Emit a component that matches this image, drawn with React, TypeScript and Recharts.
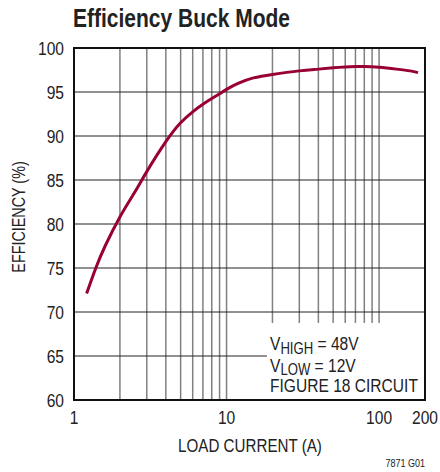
import React from "react";
import { LineChart, Line, XAxis, YAxis, CartesianGrid, ReferenceArea } from "recharts";

const loadCurrent = [1.21, 1.39, 1.6, 2, 2.5, 3, 4, 5, 6, 7, 8, 9, 10, 12, 15, 20, 30, 40, 50, 60, 70, 80, 100, 130, 160, 180];
const efficiency = [72.1, 75.0, 77.5, 80.8, 83.6, 85.95, 89.35, 91.5, 92.75, 93.6, 94.25, 94.8, 95.3, 96.0, 96.6, 97.0, 97.4, 97.6, 97.76, 97.85, 97.9, 97.9, 97.8, 97.6, 97.4, 97.2];

const xGridTicks = [1, 2, 3, 4, 5, 6, 7, 8, 9, 10, 20, 30, 40, 50, 60, 70, 80, 90, 100, 200];
const xTickLabels = [1, 10, 100, 200];
const yTicks = [60, 65, 70, 75, 80, 85, 90, 95, 100];

const data = loadCurrent.map((current, i) => ({ current, efficiency: efficiency[i] }));

const FONT = '"Liberation Sans", Arial, sans-serif';
const INK = "#222";
const CURVE = "#990033";

// Liberation Sans squeezed sideways, to look like the condensed face of the original
function NarrowText({ x, y, size, anchor = "start", weight = "normal", rotate = 0, squeeze = 0.82, children }: any) {
  return (
    <text
      transform={`translate(${x},${y}) rotate(${rotate}) scale(${squeeze},1)`}
      fontSize={size}
      fontFamily={FONT}
      fontWeight={weight}
      textAnchor={anchor}
      fill={INK}
    >
      {children}
    </text>
  );
}

const XTick = ({ x, y, payload }: any) =>
  xTickLabels.includes(payload.value) ? (
    <NarrowText x={x} y={y + 14} size={19} anchor="middle">{String(payload.value)}</NarrowText>
  ) : null;

const YTick = ({ x, y, payload }: any) => (
  <NarrowText x={x} y={y + 7} size={19} anchor="end">{String(payload.value)}</NarrowText>
);

export default function App() {
  return (
    <div style={{ position: "absolute", left: 0, top: 0, width: 440, height: 472, background: "#fff" }}>
      <LineChart width={440} height={472} data={data} margin={{ top: 48, right: 15, left: 0, bottom: 42 }}>
        <CartesianGrid horizontal={false} stroke="#808080" strokeWidth={1.5} />
        <CartesianGrid vertical={false} stroke="#222" strokeWidth={1} />
        <XAxis
          dataKey="current"
          type="number"
          scale="log"
          domain={[1, 200]}
          ticks={xGridTicks}
          interval={0}
          allowDataOverflow
          axisLine={false}
          tickLine={false}
          tickSize={0}
          tickMargin={10}
          height={30}
          tick={XTick}
        />
        <YAxis
          type="number"
          domain={[60, 100]}
          ticks={yTicks}
          interval={0}
          width={74}
          axisLine={false}
          tickLine={false}
          tickSize={0}
          tickMargin={10}
          tick={YTick}
        />
        <ReferenceArea x1={18.4} x2={200} y1={60} y2={68.75} fill="#fff" fillOpacity={1} stroke="none" />
        <ReferenceArea x1={1} x2={200} y1={60} y2={100} fill="none" stroke="#111" strokeWidth={2} />
        <Line type="natural" dataKey="efficiency" stroke={CURVE} strokeWidth={3} dot={false} isAnimationActive={false} />
      </LineChart>
      <svg width={440} height={472} style={{ position: "absolute", left: 0, top: 0, pointerEvents: "none" }}>
        <NarrowText x={73} y={27} size={25} weight="bold" squeeze={0.84}>Efficiency Buck Mode</NarrowText>
        <NarrowText x={250} y={452} size={18.5} anchor="middle">LOAD CURRENT (A)</NarrowText>
        <NarrowText x={25} y={217} size={17.5} anchor="middle" rotate={-90}>EFFICIENCY (%)</NarrowText>
        <NarrowText x={270} y={350} size={19}>
          V<tspan fontSize={16} dy={3.5}>HIGH</tspan><tspan dy={-3.5}> = 48V</tspan>
        </NarrowText>
        <NarrowText x={270} y={371.5} size={19}>
          V<tspan fontSize={16} dy={3.5}>LOW</tspan><tspan dy={-3.5}> = 12V</tspan>
        </NarrowText>
        <NarrowText x={270} y={392} size={19}>FIGURE 18 CIRCUIT</NarrowText>
        <NarrowText x={425} y={467} size={11} anchor="end">7871 G01</NarrowText>
      </svg>
    </div>
  );
}
